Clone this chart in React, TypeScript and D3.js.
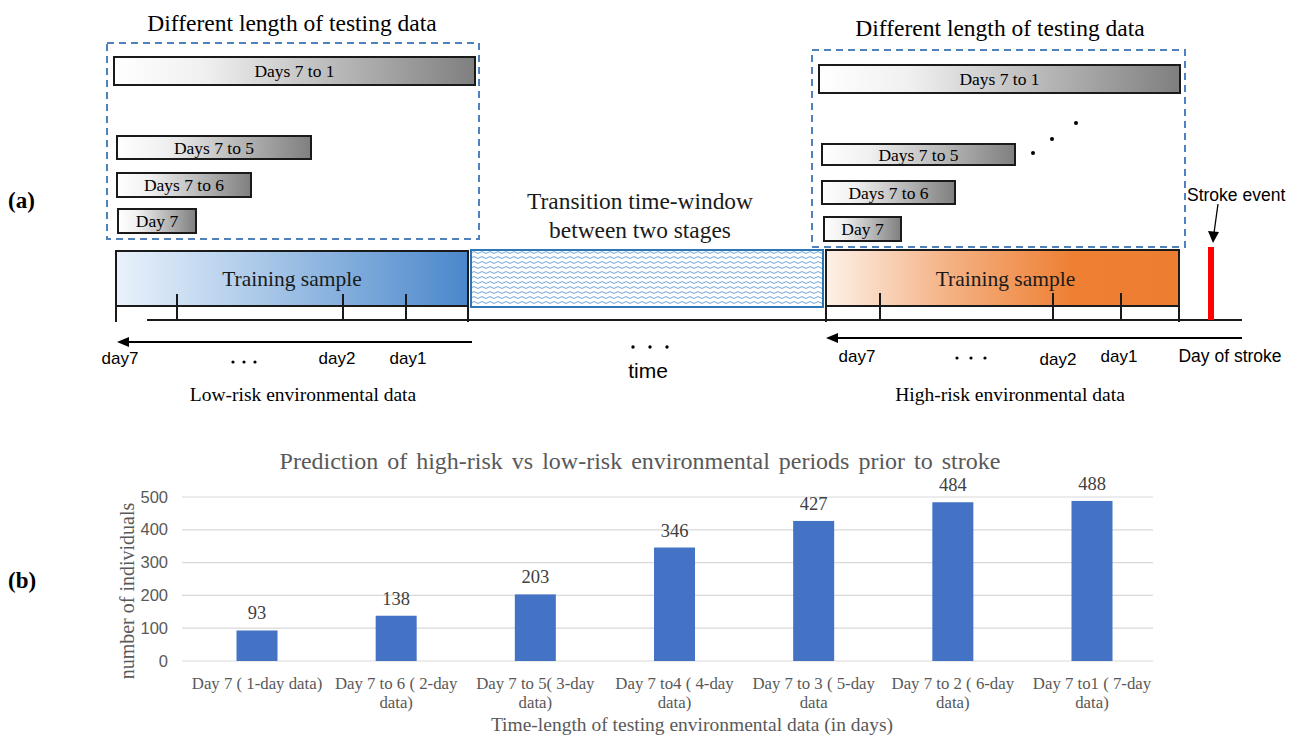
import React from "react";
import * as d3 from "d3";

// ---------- data ----------
const categories: string[][] = [
  ["Day 7 ( 1-day data)"],
  ["Day 7 to 6 ( 2-day", "data)"],
  ["Day 7 to 5( 3-day", "data)"],
  ["Day 7 to4 ( 4-day", "data)"],
  ["Day 7 to 3 ( 5-day", "data"],
  ["Day 7 to 2 ( 6-day", "data)"],
  ["Day 7 to1 ( 7-day", "data)"],
];
const values = [93, 138, 203, 346, 427, 484, 488];
const yTicks = [0, 100, 200, 300, 400, 500];
const chartTitle = "Prediction of high-risk vs low-risk environmental periods prior to stroke";
const xTitle = "Time-length of testing environmental data (in days)";
const yTitle = "number of individuals";

const testingLabels = ["Days 7 to 1", "Days 7 to 5", "Days 7 to 6", "Day 7"];
const dayLabels = ["day7", "day2", "day1"];

// ---------- diagram layout ----------
const SERIF = "'Liberation Serif', 'Times New Roman', serif";
const SANS = "'Liberation Sans', Arial, sans-serif";

type Panel = {
  titleX: number; titleY: number;
  box: [number, number, number, number];
  bars: [number, number, number, number][];
  train: [number, number, number, number];
  ticks: number[]; tickTop: number;
  arrowY: number; arrowFrom: number; arrowTo: number;
  dayX: number[]; dayY: number[];
  dots: [number, number, number];
  caption: string; captionX: number;
  grad: string;
};

const panels: Panel[] = [
  {
    titleX: 292, titleY: 31,
    box: [107, 43, 479, 239],
    bars: [[114, 57, 475, 85], [117, 136, 311, 159], [117, 173, 251, 197], [118, 209, 196, 233]],
    train: [116, 251, 468, 306],
    ticks: [177, 343, 406], tickTop: 294,
    arrowY: 342, arrowFrom: 472, arrowTo: 117,
    dayX: [120, 337, 408], dayY: [364, 364, 364],
    dots: [233, 244, 362],
    caption: "Low-risk environmental data", captionX: 303,
    grad: "gBlue",
  },
  {
    titleX: 1000, titleY: 36,
    box: [812, 50, 1185, 247],
    bars: [[819, 65, 1180, 93], [822, 144, 1015, 165], [822, 181, 955, 204], [824, 217, 901, 241]],
    train: [826, 250, 1179, 306],
    ticks: [880, 1053, 1121], tickTop: 293,
    arrowY: 338, arrowFrom: 1242, arrowTo: 826,
    dayX: [857, 1058, 1119], dayY: [362, 365, 362],
    dots: [957, 971, 358],
    caption: "High-risk environmental data", captionX: 1010,
    grad: "gOrange",
  },
];

function Arrow({ y, from, to }: { y: number; from: number; to: number }) {
  const dir = to < from ? 1 : -1;
  return (
    <g>
      <line x1={from} y1={y} x2={to + dir * 9} y2={y} stroke="#000" strokeWidth={2} />
      <path d={`M${to},${y} L${to + dir * 12},${y - 5} L${to + dir * 12},${y + 5} Z`} fill="#000" />
    </g>
  );
}

function PanelView({ p }: { p: Panel }) {
  const [bx0, by0, bx1, by1] = p.box;
  const [tx0, ty0, tx1, ty1] = p.train;
  return (
    <g>
      <text x={p.titleX} y={p.titleY} textAnchor="middle" fontFamily={SERIF} fontSize={23.5} fill="#000">
        Different length of testing data
      </text>
      <rect x={bx0} y={by0} width={bx1 - bx0} height={by1 - by0} fill="none" stroke="#4f81bd" strokeWidth={2} strokeDasharray="7 5" />
      {p.bars.map(([x0, y0, x1, y1], i) => (
        <g key={i}>
          <rect x={x0} y={y0} width={x1 - x0} height={y1 - y0} fill="url(#gGray)" stroke="#1a1a1a" strokeWidth={2} />
          <text x={(x0 + x1) / 2} y={(y0 + y1) / 2 + 6} textAnchor="middle" fontFamily={SERIF} fontSize={17.5} fill="#000">
            {testingLabels[i]}
          </text>
        </g>
      ))}
      <rect x={tx0} y={ty0} width={tx1 - tx0} height={ty1 - ty0} fill={`url(#${p.grad})`} stroke="#1a1a1a" strokeWidth={2} />
      <text x={(tx0 + tx1) / 2 + (p.grad === "gBlue" ? 0 : 3)} y={286} textAnchor="middle" fontFamily={SERIF} fontSize={21.5} fill="#1a1a1a">
        Training sample
      </text>
      {p.ticks.map((x, i) => (
        <line key={i} x1={x} x2={x} y1={p.tickTop} y2={320} stroke="#1a1a1a" strokeWidth={2} />
      ))}
      <line x1={tx0} x2={tx0} y1={306} y2={322} stroke="#1a1a1a" strokeWidth={2} />
      <line x1={tx1} x2={tx1} y1={306} y2={322} stroke="#1a1a1a" strokeWidth={2} />
      <Arrow y={p.arrowY} from={p.arrowFrom} to={p.arrowTo} />
      {dayLabels.map((d, i) => (
        <text key={d} x={p.dayX[i]} y={p.dayY[i]} textAnchor="middle" fontFamily={SANS} fontSize={17} fill="#000">
          {d}
        </text>
      ))}
      {[0, 1, 2].map((k) => (
        <circle key={k} cx={p.dots[0] + k * (p.dots[1] - p.dots[0])} cy={p.dots[2]} r={1.6} fill="#000" />
      ))}
      <text x={p.captionX} y={401} textAnchor="middle" fontFamily={SERIF} fontSize={19.5} fill="#000">
        {p.caption}
      </text>
    </g>
  );
}

function BarChart() {
  const x = d3.scalePoint<number>().domain(d3.range(values.length)).range([257, 1092]);
  const y = d3.scaleLinear().domain([0, 500]).range([661, 497]);
  const bw = 41;
  return (
    <g>
      <text x={640} y={469} textAnchor="middle" fontFamily={SERIF} fontSize={24} fill="#595959" wordSpacing={3}>
        {chartTitle}
      </text>
      {yTicks.map((t) => (
        <g key={t}>
          <line x1={182} x2={1153} y1={y(t)} y2={y(t)} stroke="#d9d9d9" strokeWidth={1.2} />
          <text x={168} y={y(t) + 5.5} textAnchor="end" fontFamily={SANS} fontSize={16.5} fill="#595959">
            {t}
          </text>
        </g>
      ))}
      {values.map((v, i) => (
        <g key={i}>
          <rect x={(x(i) as number) - bw / 2} y={y(v)} width={bw} height={y(0) - y(v)} fill="#4472c4" />
          <text x={x(i)} y={y(v) - 11} textAnchor="middle" fontFamily={SERIF} fontSize={18.5} fill="#404040">
            {v}
          </text>
          {categories[i].map((line, j) => (
            <text key={j} x={x(i)} y={689 + j * 19} textAnchor="middle" fontFamily={SERIF} fontSize={16.8} fill="#595959">
              {line}
            </text>
          ))}
        </g>
      ))}
      <text transform={`translate(134,591) rotate(-90)`} textAnchor="middle" fontFamily={SERIF} fontSize={20} fill="#595959">
        {yTitle}
      </text>
      <text x={692} y={731} textAnchor="middle" fontFamily={SERIF} fontSize={19.5} fill="#595959">
        {xTitle}
      </text>
    </g>
  );
}

export default function App() {
  return (
    <svg width={1289} height={737} style={{ position: "absolute", left: 0, top: 0, background: "#fff" }}>
      <defs>
        <linearGradient id="gGray" x1="0" x2="1" y1="0" y2="0">
          <stop offset="0" stopColor="#ffffff" />
          <stop offset="0.25" stopColor="#f0f0f0" />
          <stop offset="1" stopColor="#7f7f7f" />
        </linearGradient>
        <linearGradient id="gBlue" x1="0" x2="1" y1="0" y2="0">
          <stop offset="0" stopColor="#eaf2fb" />
          <stop offset="0.35" stopColor="#b4cfec" />
          <stop offset="1" stopColor="#4a87cb" />
        </linearGradient>
        <linearGradient id="gOrange" x1="0" x2="1" y1="0" y2="0">
          <stop offset="0" stopColor="#fdf1e8" />
          <stop offset="0.35" stopColor="#f4b183" />
          <stop offset="0.7" stopColor="#ee7f33" />
          <stop offset="1" stopColor="#ed7d31" />
        </linearGradient>
        <pattern id="wave" patternUnits="userSpaceOnUse" width={8} height={5}>
          <path d="M0,2.5 Q2,0.6 4,2.5 T8,2.5" fill="none" stroke="#5b9bd5" strokeWidth={0.9} />
        </pattern>
      </defs>

      <text x={8} y={208} fontFamily={SERIF} fontSize={23} fontWeight="bold" fill="#000">(a)</text>
      <text x={8} y={588} fontFamily={SERIF} fontSize={23} fontWeight="bold" fill="#000">(b)</text>

      {/* long time axis line */}
      <line x1={147} x2={1242} y1={320} y2={320} stroke="#1a1a1a" strokeWidth={2} />

      {panels.map((p, i) => <PanelView key={i} p={p} />)}

      {/* transition window */}
      <rect x={471} y={250} width={352} height={57} fill="#fff" />
      <rect x={471} y={250} width={352} height={57} fill="url(#wave)" stroke="#2e75b6" strokeWidth={2} />
      <text x={640} y={209} textAnchor="middle" fontFamily={SERIF} fontSize={23.4} fill="#1a1a1a">Transition time-window</text>
      <text x={640} y={238} textAnchor="middle" fontFamily={SERIF} fontSize={23.4} fill="#1a1a1a">between two stages</text>
      {[0, 1, 2].map((k) => <circle key={k} cx={633 + k * 17} cy={347} r={1.7} fill="#000" />)}
      <text x={648} y={378} textAnchor="middle" fontFamily={SANS} fontSize={21} fill="#000">time</text>

      {/* right-panel extra dots */}
      {[[1033, 153], [1052, 139], [1076, 123]].map(([cx, cy], k) => <circle key={k} cx={cx} cy={cy} r={2} fill="#000" />)}

      {/* stroke event */}
      <text x={1187} y={201} fontFamily={SANS} fontSize={17.5} fill="#000">Stroke event</text>
      <line x1={1218} y1={204} x2={1214} y2={233} stroke="#000" strokeWidth={1.3} />
      <path d="M1213,243 L1208,231 L1219,232 Z" fill="#000" />
      <rect x={1208} y={247} width={6} height={73} fill="#ff0000" />
      <text x={1230} y={362} textAnchor="middle" fontFamily={SANS} fontSize={17.5} fill="#000">Day of stroke</text>

      <BarChart />
    </svg>
  );
}
